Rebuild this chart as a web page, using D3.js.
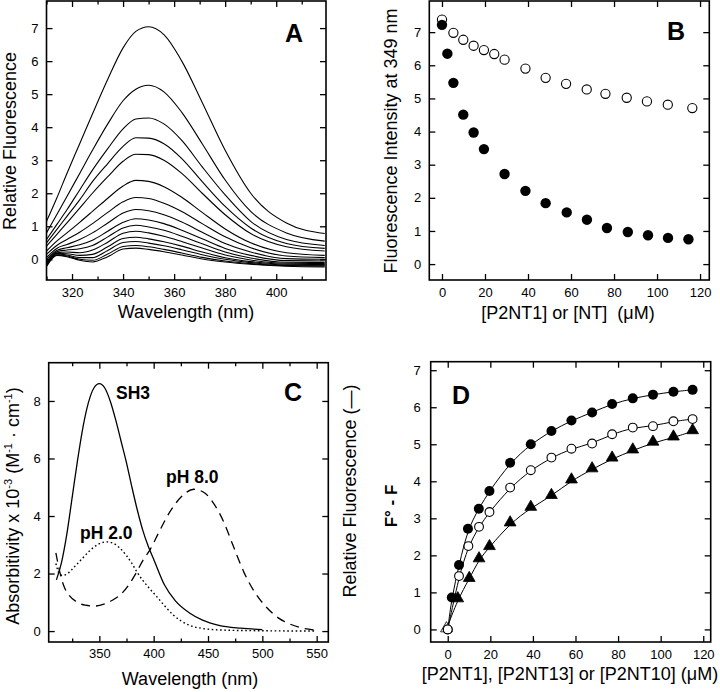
<!DOCTYPE html>
<html><head><meta charset="utf-8">
<script src="https://cdn.jsdelivr.net/npm/d3@7"></script>
<style>
body{margin:0;background:#fff}
svg{display:block}
text{font-family:"Liberation Sans",Arial,Helvetica,sans-serif;fill:#000}
</style>
</head><body>
<svg id="c" width="720" height="692"></svg>
<script>
// ---------- Panel A data ----------
const aWavelengths = [310,314,318,323,328,334,340,345,350,356,363,371,380,390,404,419];
const aSpectrum1  = [1.15,1.85,2.6,3.5,4.4,5.45,6.4,6.9,7.04,6.8,6.0,4.75,3.3,2.0,1.1,0.78];
const aSpectrum2  = [0.8,1.35,1.9,2.6,3.3,4.1,4.8,5.15,5.27,5.07,4.45,3.5,2.4,1.45,0.8,0.55];
const aSpectrum3  = [0.6,1.05,1.5,2.1,2.7,3.35,3.95,4.25,4.28,4.1,3.6,2.8,1.95,1.15,0.6,0.42];
const aSpectrum4  = [0.5,0.9,1.3,1.8,2.35,2.9,3.42,3.68,3.67,3.5,3.05,2.35,1.6,0.95,0.48,0.33];
const aSpectrum5  = [0.4,0.75,1.1,1.55,2.0,2.5,2.97,3.18,3.17,3.0,2.6,2.0,1.35,0.78,0.38,0.25];
const aSpectrum6  = [0.25,0.55,0.8,1.12,1.45,1.85,2.22,2.39,2.36,2.2,1.88,1.42,0.92,0.5,0.2,0.12];
const aSpectrum7  = [0.15,0.42,0.6,0.82,1.08,1.42,1.74,1.87,1.84,1.7,1.45,1.08,0.68,0.35,0.1,0.05];
const aSpectrum8  = [0.05,0.33,0.45,0.6,0.8,1.1,1.4,1.51,1.47,1.35,1.13,0.82,0.48,0.22,0.02,0.0];
const aSpectrum9  = [-0.02,0.27,0.35,0.44,0.58,0.85,1.12,1.23,1.19,1.08,0.88,0.62,0.33,0.12,-0.04,-0.05];
const aSpectrum10 = [-0.08,0.23,0.28,0.32,0.42,0.68,0.95,1.03,0.98,0.88,0.7,0.47,0.22,0.04,-0.09,-0.1];
const aSpectrum11 = [-0.12,0.2,0.22,0.2,0.28,0.52,0.79,0.85,0.8,0.7,0.54,0.34,0.13,-0.02,-0.12,-0.13];
const aSpectrum12 = [-0.15,0.18,0.17,0.12,0.15,0.38,0.63,0.67,0.62,0.53,0.4,0.22,0.05,-0.07,-0.15,-0.16];
const aSpectrum13 = [-0.18,0.16,0.13,0.05,0.05,0.27,0.51,0.54,0.49,0.41,0.29,0.14,0.0,-0.1,-0.17,-0.18];
const aSpectrum14 = [-0.2,0.14,0.1,0.0,-0.03,0.16,0.39,0.42,0.38,0.3,0.19,0.06,-0.05,-0.13,-0.19,-0.2];
const aSpectrum15 = [-0.22,0.12,0.08,-0.03,-0.08,0.08,0.31,0.34,0.3,0.23,0.13,0.01,-0.08,-0.15,-0.21,-0.23];
const aSpectra = [aSpectrum1,aSpectrum2,aSpectrum3,aSpectrum4,aSpectrum5,aSpectrum6,aSpectrum7,aSpectrum8,
                  aSpectrum9,aSpectrum10,aSpectrum11,aSpectrum12,aSpectrum13,aSpectrum14,aSpectrum15];
const aXTicks = [320,340,360,380,400];
const aXMinor = [310,330,350,370,390,410];
const aYTicks = [0,1,2,3,4,5,6,7];

// ---------- Panel B data ----------
const bOpenX   = [0,5.3,9.9,14.7,19.5,24.3,29.1,38.8,48.2,57.7,67.3,76,85.9,95.3,105,116.4];
const bOpenY   = [7.38,6.98,6.77,6.59,6.46,6.34,6.17,5.9,5.62,5.44,5.27,5.14,5.02,4.91,4.81,4.71];
const bFilledX = [0,2.5,5.3,9.9,14.7,19.5,29.1,38.8,48.2,58,67.4,76.7,86.4,95.8,105.1,114.6];
const bFilledY = [7.22,6.35,5.47,4.51,3.97,3.47,2.72,2.21,1.84,1.56,1.34,1.09,0.97,0.87,0.79,0.75];
const bXTicks = [0,20,40,60,80,100,120];
const bYTicks = [0,1,2,3,4,5,6,7];

// ---------- Panel C data ----------
const cSolidX = [310.5,315,320,325,330,335,340,345,350,355,360,365,370,375,380,385,390,395,400,410,420,433,445,460,480,500];
const cSolidY = [1.78,2.35,3.35,4.65,5.95,7.1,7.95,8.45,8.6,8.45,8.0,7.35,6.6,5.85,5.0,4.2,3.5,2.95,2.5,1.6,1.05,0.63,0.38,0.2,0.1,0.05];
const cDotX = [310,313,316,320,325,330,335,340,345,350,357,363,369,375,380,385,390,395,403,410,418,425,433,445,460,480,550];
const cDotY = [2.35,2.0,1.93,1.98,2.15,2.35,2.55,2.75,2.92,3.04,3.1,3.05,2.88,2.62,2.35,2.03,1.76,1.53,1.19,0.88,0.56,0.36,0.2,0.09,0.04,0.02,0.0];
const cDashX = [310,313,317,322,329,337,346,355,362,369,377,384,390,397,405,415,425,437,447,455,465,473,483,493,504,515,525,535,545,550];
const cDashY = [2.72,2.15,1.6,1.25,1.02,0.9,0.87,0.95,1.07,1.25,1.6,2.03,2.45,2.85,3.45,4.15,4.65,4.93,4.8,4.45,3.75,2.98,2.05,1.35,0.82,0.45,0.25,0.12,0.05,0.02];
const cXTicks = [350,400,450,500,550];
const cXMinor = [325,375,425,475,525];
const cYTicks = [0,2,4,6,8];

// ---------- Panel D data ----------
const dFilledX = [0,1.9,5.3,9.5,14.6,19.6,29.3,39,48.7,58.1,67.8,77.2,86.9,96.4,106,115];
const dFilledY = [0,0.86,1.74,2.72,3.26,3.74,4.5,5.0,5.36,5.64,5.86,6.09,6.24,6.34,6.42,6.47];
const dOpenX   = [0,5.3,9.7,14.7,19.6,29.3,39,48.7,58.1,67.8,77.2,86.9,96.4,106,115];
const dOpenY   = [0,1.44,2.25,2.77,3.17,3.83,4.3,4.64,4.88,5.02,5.27,5.45,5.49,5.62,5.68];
const dTriX    = [-0.6,4.7,10.1,14.7,19.6,29.3,39,48.7,58.1,67.8,77.2,86.9,96.4,106,115];
const dTriY    = [0,0.81,1.36,1.89,2.22,2.86,3.28,3.6,4.02,4.32,4.61,4.83,5.04,5.18,5.35];
const dXTicks = [0,20,40,60,80,100,120];
const dYTicks = [0,1,2,3,4,5,6,7];

// ---------- drawing ----------
const svg = d3.select("#c");
const FONT = '"Liberation Sans",Arial,Helvetica,sans-serif';

function makePanel(box, xDom, yDom, opt) {
  const g = svg.append("g");
  const x = d3.scaleLinear().domain(xDom).range([box.x0, box.x1]);
  const y = d3.scaleLinear().domain(yDom).range([box.y1, box.y0]);
  const style = sel => {
    sel.select(".domain").remove();
    sel.attr("font-family", FONT).attr("font-size", 13);
    sel.selectAll(".tick line").attr("stroke", "#000").attr("stroke-width", 1.3);
    sel.selectAll(".tick text").attr("fill", "#000");
  };
  const fmt = d3.format("d");
  g.append("g").attr("transform", `translate(0,${box.y1})`)
    .call(d3.axisBottom(x).tickValues(opt.xt).tickSizeInner(-6).tickSizeOuter(0).tickPadding(opt.xpad || 8).tickFormat(fmt)).call(style);
  g.append("g").attr("transform", `translate(0,${box.y0})`)
    .call(d3.axisTop(x).tickValues(opt.xt).tickSizeInner(-6).tickSizeOuter(0).tickFormat("")).call(style);
  if (opt.xm) {
    g.append("g").attr("transform", `translate(0,${box.y1})`)
      .call(d3.axisBottom(x).tickValues(opt.xm).tickSizeInner(-3.5).tickSizeOuter(0).tickFormat("")).call(style);
    g.append("g").attr("transform", `translate(0,${box.y0})`)
      .call(d3.axisTop(x).tickValues(opt.xm).tickSizeInner(-3.5).tickSizeOuter(0).tickFormat("")).call(style);
  }
  g.append("g").attr("transform", `translate(${box.x0},0)`)
    .call(d3.axisLeft(y).tickValues(opt.yt).tickSizeInner(-6).tickSizeOuter(0).tickPadding(opt.ypad || 8).tickFormat(fmt)).call(style);
  g.append("g").attr("transform", `translate(${box.x1},0)`)
    .call(d3.axisRight(y).tickValues(opt.yt).tickSizeInner(-6).tickSizeOuter(0).tickFormat("")).call(style);
  g.append("rect").attr("x", box.x0).attr("y", box.y0)
    .attr("width", box.x1 - box.x0).attr("height", box.y1 - box.y0)
    .attr("fill", "none").attr("stroke", "#000").attr("stroke-width", 1.6);
  const clipId = "clip" + Math.round(box.x0) + "_" + Math.round(box.y0);
  svg.append("clipPath").attr("id", clipId).append("rect")
    .attr("x", box.x0).attr("y", box.y0).attr("width", box.x1 - box.x0).attr("height", box.y1 - box.y0);
  const plot = g.append("g").attr("clip-path", `url(#${clipId})`);
  return {g, x, y, plot};
}

function label(txt, x, y, size, weight, anchor, rotate) {
  const t = svg.append("text").attr("font-size", size).attr("font-weight", weight || "normal")
    .attr("text-anchor", anchor || "middle").attr("font-family", FONT);
  if (rotate) t.attr("transform", `translate(${x},${y}) rotate(-90)`);
  else t.attr("x", x).attr("y", y);
  t.text(txt);
  return t;
}

// ===== Panel A =====
{
  const p = makePanel({x0: 46.5, x1: 326, y0: 1, y1: 280}, [310, 419.5], [-0.626, 7.82],
    {xt: aXTicks, xm: aXMinor, yt: aYTicks});
  const line = d3.line().x((d, i) => p.x(aWavelengths[i])).y(d => p.y(d)).curve(d3.curveMonotoneX);
  p.plot.selectAll("path.spec").data(aSpectra).join("path").attr("class", "spec")
    .attr("d", line).attr("fill", "none").attr("stroke", "#000").attr("stroke-width", 1.1);
  label("A", 303, 42, 25, "bold", "end");
  label("Relative Fluorescence", 15.5, 141, 18, "normal", "middle", true);
  label("Wavelength (nm)", 186, 318, 18);
}

// ===== Panel B =====
{
  const p = makePanel({x0: 429.3, x1: 709.3, y0: 1, y1: 280}, [-5.9, 124.3], [-0.48, 7.94],
    {xt: bXTicks, yt: bYTicks});
  p.g.selectAll("circle.o").data(bOpenX).join("circle").attr("class", "o")
    .attr("cx", d => p.x(d)).attr("cy", (d, i) => p.y(bOpenY[i])).attr("r", 4.6)
    .attr("fill", "#fff").attr("stroke", "#000").attr("stroke-width", 1.1);
  p.g.selectAll("circle.f").data(bFilledX).join("circle").attr("class", "f")
    .attr("cx", d => p.x(d)).attr("cy", (d, i) => p.y(bFilledY[i])).attr("r", 5.2)
    .attr("fill", "#000");
  label("B", 685, 40, 25, "bold", "end");
  label("Fluorescence Intensity at 349 nm", 397, 141, 18, "normal", "middle", true);
  const t = label("", 568, 319, 18);
  t.text("[P2NT1] or [NT]\u00a0\u00a0(\u03bcM)");
}

// ===== Panel C =====
{
  const p = makePanel({x0: 48.7, x1: 328.3, y0: 362.7, y1: 642}, [303.4, 560.7], [-0.38, 9.33],
    {xt: cXTicks, xm: cXMinor, yt: cYTicks, xpad: 7});
  const mk = (xs) => d3.line().x((d, i) => p.x(xs[i])).y(d => p.y(d)).curve(d3.curveMonotoneX);
  p.plot.append("path").attr("d", mk(cSolidX)(cSolidY)).attr("fill", "none").attr("stroke", "#000").attr("stroke-width", 1.3);
  p.plot.append("path").attr("d", mk(cDotX)(cDotY)).attr("fill", "none").attr("stroke", "#000").attr("stroke-width", 1.4)
    .attr("stroke-dasharray", "1.6,2.6");
  p.plot.append("path").attr("d", mk(cDashX)(cDashY)).attr("fill", "none").attr("stroke", "#000").attr("stroke-width", 1.3)
    .attr("stroke-dasharray", "9,6");
  label("SH3", 116, 399, 17.5, "bold", "start");
  label("pH 8.0", 166, 483, 17.5, "bold", "start");
  label("pH 2.0", 80, 539, 17.5, "bold", "start");
  label("C", 302, 401, 25, "bold", "end");
  // left title with superscripts
  const t = svg.append("text").attr("font-size", 18).attr("text-anchor", "middle").attr("font-family", FONT)
    .attr("transform", "translate(19,506) rotate(-90)");
  t.append("tspan").text("Absorbitivity x 10");
  t.append("tspan").attr("font-size", 11).attr("dy", -7).text("-3");
  t.append("tspan").attr("dy", 7).text(" (M");
  t.append("tspan").attr("font-size", 11).attr("dy", -7).text("-1");
  t.append("tspan").attr("dy", 7).text(" \u00b7 cm");
  t.append("tspan").attr("font-size", 11).attr("dy", -7).text("-1");
  t.append("tspan").attr("dy", 7).text(")");
  label("Relative Fluorescence (\u2014)", 356, 491, 18, "normal", "middle", true);
  label("Wavelength (nm)", 190, 685, 18);
}

// ===== Panel D =====
{
  const p = makePanel({x0: 430.7, x1: 710.7, y0: 361.7, y1: 642}, [-8, 123.5], [-0.34, 7.23],
    {xt: dXTicks, yt: dYTicks, ypad: 10});
  const mk = (xs) => d3.line().x((d, i) => p.x(xs[i])).y(d => p.y(d)).curve(d3.curveBasis);
  [[dFilledX, dFilledY], [dOpenX, dOpenY], [dTriX, dTriY]].forEach(([xs, ys]) => {
    p.g.append("path").attr("d", mk(xs)(ys)).attr("fill", "none").attr("stroke", "#000").attr("stroke-width", 1);
  });
  const tri = d3.symbol().type(d3.symbolTriangle).size(60);
  p.g.selectAll("path.t").data(dTriX).join("path").attr("class", "t")
    .attr("transform", (d, i) => `translate(${p.x(d)},${p.y(dTriY[i]) - 1})`)
    .attr("d", tri).attr("fill", (d, i) => i === 0 ? "#fff" : "#000")
    .attr("stroke", "#000").attr("stroke-width", 0.8);
  p.g.selectAll("circle.f").data(dFilledX).join("circle").attr("class", "f")
    .attr("cx", d => p.x(d)).attr("cy", (d, i) => p.y(dFilledY[i])).attr("r", 5)
    .attr("fill", "#000");
  p.g.selectAll("circle.o").data(dOpenX).join("circle").attr("class", "o")
    .attr("cx", d => p.x(d)).attr("cy", (d, i) => p.y(dOpenY[i])).attr("r", 4.4)
    .attr("fill", "#fff").attr("stroke", "#000").attr("stroke-width", 1.1);
  label("D", 452, 404, 25, "bold", "start");
  label("F\u00b0 - F", 397, 506, 17, "bold", "middle", true);
  label("[P2NT1], [P2NT13] or [P2NT10] (\u03bcM)", 570, 680, 18);
}
</script>
</body></html>
